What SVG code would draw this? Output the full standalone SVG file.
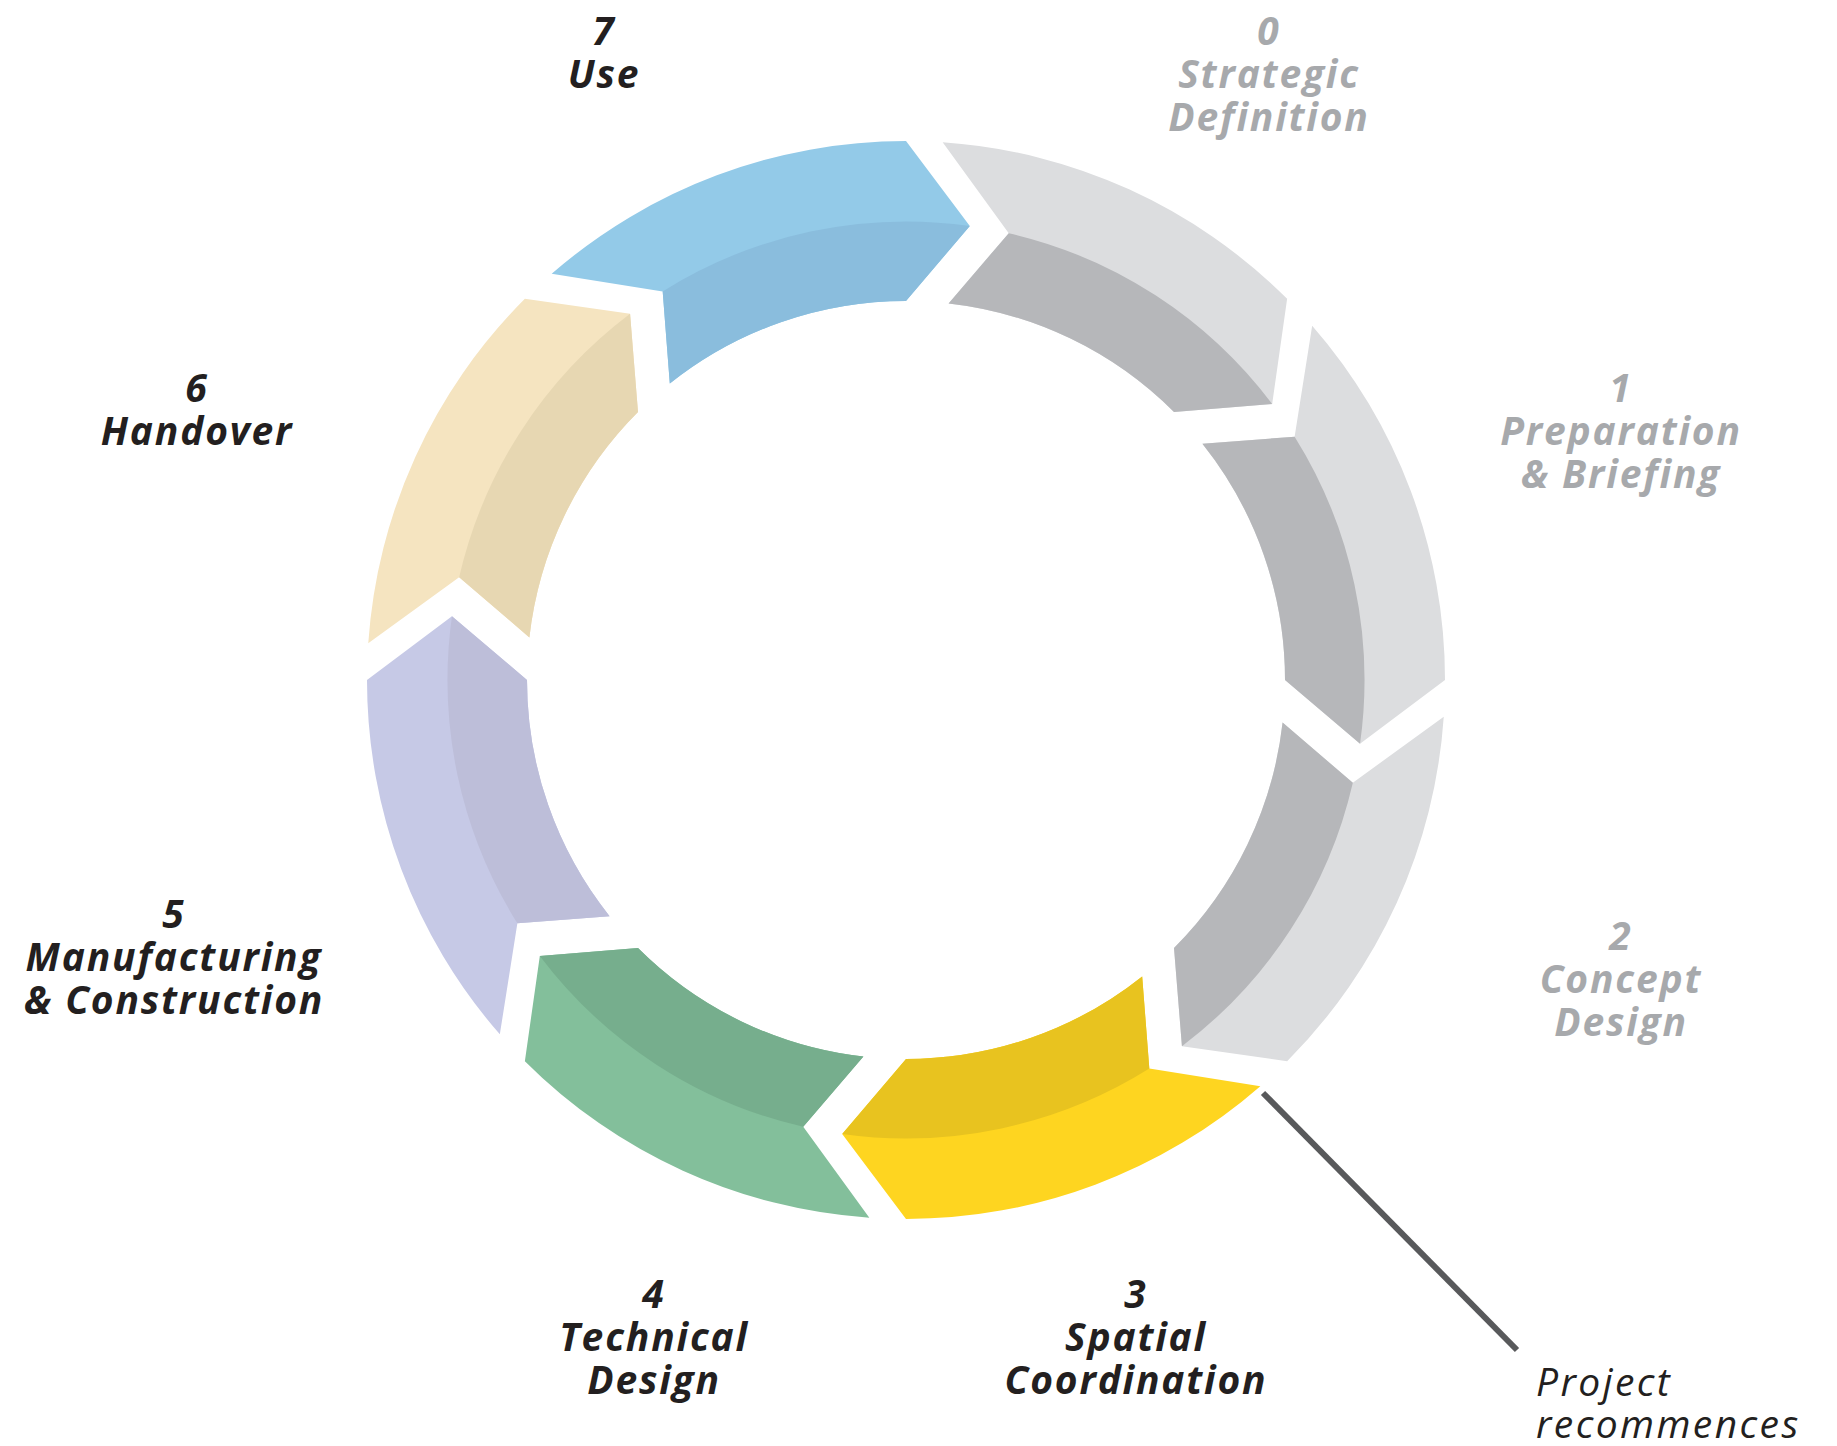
<svg xmlns="http://www.w3.org/2000/svg" xmlns:xlink="http://www.w3.org/1999/xlink" width="1837" height="1446" viewBox="0 0 1837 1446">
  <style>
    .label { font-family: "Open Sans", "Liberation Sans", sans-serif; font-weight: 700; font-style: italic; font-size: 39px; letter-spacing: 1.8px; text-anchor: middle; }
    .dark { fill: #231F20; }
    .muted { fill: #A7A9AC; }
    .note { font-family: "Open Sans", "Liberation Sans", sans-serif; font-style: italic; font-size: 39px; letter-spacing: 2.4px; fill: #231F20; }
    .leader { stroke: #58595B; stroke-width: 6; fill: none; }
  </style>
  <defs>
    <!-- One arrow of the ring, head at 0 degrees, centred on the origin -->
    <path id="arrow" d="M406.17,-354.33 A539,539 0 0 1 539,0 L454.04,63.81 L379,0 A379,379 0 0 0 296.40,-236.19 L388.62,-243.31 Z"/>
    <!-- Inner (shaded) face of the arrow -->
    <path id="inner" d="M454.04,63.81 L379,0 A379,379 0 0 0 296.40,-236.19 L388.62,-243.31 A458.5,458.5 0 0 1 454.04,63.81 Z"/>
  </defs>

  <g id="ring" transform="translate(906,680)">
    <g id="stage-0" transform="rotate(-45)">
      <use xlink:href="#arrow" fill="#DCDDDF"/>
      <use xlink:href="#inner" fill="#B6B7BA"/>
    </g>
    <g id="stage-1" transform="rotate(0)">
      <use xlink:href="#arrow" fill="#DCDDDF"/>
      <use xlink:href="#inner" fill="#B6B7BA"/>
    </g>
    <g id="stage-2" transform="rotate(45)">
      <use xlink:href="#arrow" fill="#DCDDDF"/>
      <use xlink:href="#inner" fill="#B6B7BA"/>
    </g>
    <g id="stage-3" transform="rotate(90)">
      <use xlink:href="#arrow" fill="#FED520"/>
      <use xlink:href="#inner" fill="#E8C31F"/>
    </g>
    <g id="stage-4" transform="rotate(135)">
      <use xlink:href="#arrow" fill="#83BF9B"/>
      <use xlink:href="#inner" fill="#76AE8D"/>
    </g>
    <g id="stage-5" transform="rotate(180)">
      <use xlink:href="#arrow" fill="#C6C9E6"/>
      <use xlink:href="#inner" fill="#BDBED9"/>
    </g>
    <g id="stage-6" transform="rotate(225)">
      <use xlink:href="#arrow" fill="#F5E4C0"/>
      <use xlink:href="#inner" fill="#E7D7B2"/>
    </g>
    <g id="stage-7" transform="rotate(-90)">
      <use xlink:href="#arrow" fill="#93CAE8"/>
      <use xlink:href="#inner" fill="#8ABDDD"/>
    </g>
  </g>

  <g id="connectors">
    <line class="leader" x1="1263" y1="1093" x2="1517" y2="1350"/>
  </g>

  <g id="label-7" class="label dark">
    <text x="604" y="45">7</text>
    <text x="604" y="88">Use</text>
  </g>
  <g id="label-0" class="label muted">
    <text x="1269" y="45">0</text>
    <text x="1269" y="88">Strategic</text>
    <text x="1269" y="131">Definition</text>
  </g>
  <g id="label-1" class="label muted">
    <text x="1621" y="402">1</text>
    <text x="1621" y="445">Preparation</text>
    <text x="1621" y="488">&amp; Briefing</text>
  </g>
  <g id="label-2" class="label muted">
    <text x="1621" y="950">2</text>
    <text x="1621" y="993">Concept</text>
    <text x="1621" y="1036">Design</text>
  </g>
  <g id="label-3" class="label dark">
    <text x="1136" y="1308">3</text>
    <text x="1136" y="1351">Spatial</text>
    <text x="1136" y="1394">Coordination</text>
  </g>
  <g id="label-4" class="label dark">
    <text x="654" y="1308">4</text>
    <text x="654" y="1351">Technical</text>
    <text x="654" y="1394">Design</text>
  </g>
  <g id="label-5" class="label dark">
    <text x="174" y="928">5</text>
    <text x="174" y="971">Manufacturing</text>
    <text x="174" y="1014">&amp; Construction</text>
  </g>
  <g id="label-6" class="label dark">
    <text x="197" y="402">6</text>
    <text x="197" y="445">Handover</text>
  </g>
  <g id="note-recommences">
    <text class="note" x="1536" y="1396">Project</text>
    <text class="note" x="1536" y="1438">recommences</text>
  </g>
</svg>
